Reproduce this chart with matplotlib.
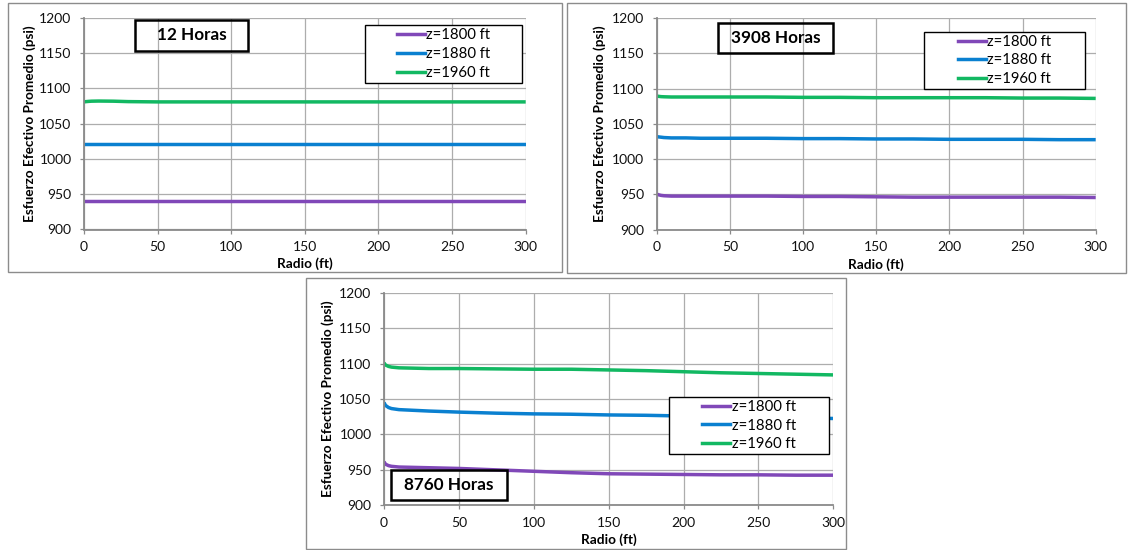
import matplotlib
matplotlib.use("Agg")
import matplotlib.pyplot as plt
from matplotlib.patches import Rectangle
from matplotlib.lines import Line2D

plt.rcParams['font.family'] = ['Lato', 'DejaVu Sans']

# ---------------- data ----------------
radius = [0, 1, 3, 5, 10, 20, 30, 50, 75, 100, 125, 150, 175, 200, 225, 250, 275, 300]
series_labels = ["z=1800 ft", "z=1880 ft", "z=1960 ft"]
panel_titles = ["12 Horas", "3908 Horas", "8760 Horas"]

h12_z1800 = [941, 941, 941, 941, 941, 941, 941, 941, 941, 941, 941, 941, 941, 941, 941, 941, 941, 941]
h12_z1880 = [1021, 1021, 1021, 1021, 1021, 1021, 1021, 1021, 1021, 1021, 1021, 1021, 1021, 1021, 1021, 1021, 1021, 1021]
h12_z1960 = [1081, 1081.3, 1081.7, 1082, 1082.2, 1082, 1081.4, 1081, 1081, 1081, 1081, 1081, 1081, 1081, 1081, 1081, 1081, 1081]

h3908_z1800 = [950.5, 949.5, 948.5, 948, 947.5, 947.5, 947.5, 947.5, 947.5, 947, 947, 946.5, 946, 946, 946, 946, 946, 945.5]
h3908_z1880 = [1032, 1031.5, 1031, 1030.5, 1030, 1030, 1029.5, 1029.5, 1029.5, 1029, 1029, 1028.5, 1028.5, 1028, 1028, 1028, 1027.5, 1027.5]
h3908_z1960 = [1089.5, 1089, 1088.5, 1088.3, 1088, 1088, 1088, 1088, 1088, 1087.5, 1087.5, 1087, 1087, 1087, 1087, 1086.5, 1086.5, 1086]

h8760_z1800 = [961.5, 958, 956, 955, 954, 953.5, 953, 952, 950, 948, 946, 944.5, 944, 943.5, 943, 943, 942.5, 942.5]
h8760_z1880 = [1045, 1041, 1038, 1036.5, 1035, 1034, 1033, 1031.5, 1030, 1029, 1028.5, 1027.5, 1027, 1026, 1025, 1024, 1023.5, 1022.5]
h8760_z1960 = [1101, 1098, 1096, 1095, 1094, 1093.5, 1093, 1093, 1092.5, 1092, 1092, 1091, 1090, 1088.5, 1087, 1086, 1085, 1084]

x_ticks = [0, 50, 100, 150, 200, 250, 300]
y_ticks = [900, 950, 1000, 1050, 1100, 1150, 1200]

colors = ['#8048B8', '#0A80D0', '#12B862']

W, H = 1128, 550
fig = plt.figure(figsize=(W / 100, H / 100), dpi=100)


def fx(x):
    return x / W


def fy(y):
    return 1 - y / H


def frame(x0, y0, x1, y1, lw=1.0, ec='#8C8C8C'):
    fig.patches.append(Rectangle((fx(x0), fy(y1)), fx(x1) - fx(x0), fy(y0) - fy(y1),
                                 transform=fig.transFigure, fill=False, ec=ec, lw=lw))


def panel(plot_box, frame_box, data, title, title_box, legend_box, ylab_x, xlab_pos):
    frame(*frame_box)
    l, t, r, b = plot_box
    ax = fig.add_axes([fx(l), fy(b), fx(r) - fx(l), fy(t) - fy(b)])
    for vals, c, lab in zip(data, colors, series_labels):
        ax.plot(radius, vals, color=c, lw=2.5, label=lab, solid_capstyle='butt')
    ax.set_xlim(0, 300)
    ax.set_ylim(900, 1200)
    ax.set_xticks(x_ticks)
    ax.set_yticks(y_ticks)
    ax.grid(True, color='#ADADAD', lw=0.9)
    ax.set_axisbelow(True)
    for s in ['top', 'right']:
        ax.spines[s].set_visible(False)
    for s in ['left', 'bottom']:
        ax.spines[s].set_color('#8A8A8A')
        ax.spines[s].set_linewidth(1.3)
    ax.tick_params(axis='both', direction='out', length=3, width=0.9, color='#8A8A8A',
                   labelsize=10, labelcolor='#111111')
    ax.tick_params(axis='y', pad=6.0)
    ax.tick_params(axis='x', pad=5.5)
    # title box
    tx0, ty0, tx1, ty1 = title_box
    frame(tx0, ty0, tx1, ty1, lw=1.8, ec='black')
    fig.text(fx((tx0 + tx1) / 2), fy((ty0 + ty1) / 2), title, ha='center', va='center',
             fontsize=12.3, fontweight='bold')
    # legend box
    lx0, ly0, lx1, ly1 = legend_box
    fig.patches.append(Rectangle((fx(lx0), fy(ly1)), fx(lx1) - fx(lx0), fy(ly0) - fy(ly1),
                                 transform=fig.transFigure, fc='white', ec='black', lw=1.0,
                                 zorder=5))
    handles = [Line2D([], [], color=c, lw=2.5) for c in colors]
    leg = fig.legend(handles, series_labels, loc='center',
                     bbox_to_anchor=(fx((lx0 + lx1) / 2), fy((ly0 + ly1) / 2)),
                     frameon=False, fontsize=10.7, handlelength=1.9, handletextpad=0.1,
                     labelspacing=0.32, borderpad=0.2)
    leg.set_zorder(6)
    # axis labels
    fig.text(fx(ylab_x), fy((t + b) / 2), 'Esfuerzo Efectivo Promedio (psi)', rotation=90,
             ha='center', va='center', fontsize=9.8, fontweight='bold')
    fig.text(fx(xlab_pos[0]), fy(xlab_pos[1]), 'Radio (ft)', ha='center', va='center',
             fontsize=9.8, fontweight='bold')
    return ax


panel((84, 18, 525.7, 229.5), (8, 3, 562, 272),
      [h12_z1800, h12_z1880, h12_z1960], panel_titles[0],
      (135, 20, 248, 51), (365, 25, 522, 83), 30, (305, 264))

panel((656.7, 18, 1095.7, 229.6), (567, 3, 1126, 273),
      [h3908_z1800, h3908_z1880, h3908_z1960], panel_titles[1],
      (718, 23, 833, 53), (924, 32, 1085, 89), 600, (876, 265))

panel((384, 292.7, 833.3, 505.3), (306, 278, 846, 549),
      [h8760_z1800, h8760_z1880, h8760_z1960], panel_titles[2],
      (391, 470, 507, 500), (669, 397, 829, 454), 328, (609, 540))

fig.savefig('out.png', dpi=100)
